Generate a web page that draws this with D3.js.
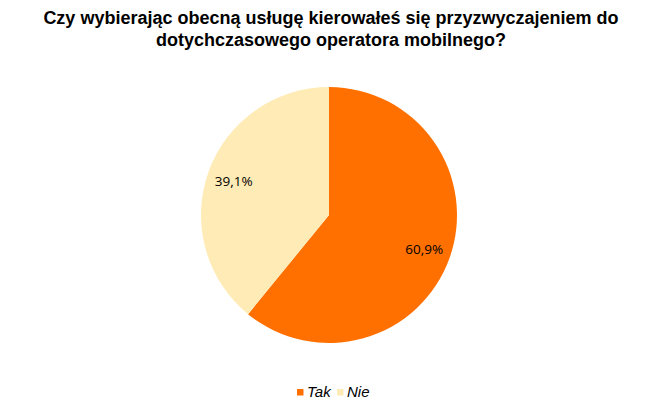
<!DOCTYPE html>
<html lang="pl">
<head>
    <meta charset="UTF-8">
    <title>Przyzwyczajenie do operatora</title>
    <script src="https://cdnjs.cloudflare.com/ajax/libs/d3/7.8.5/d3.min.js"></script>
    <style>
        body { margin: 0; background: #ffffff; }
        svg { display: block; }
    </style>
</head>
<body>
    <div id="chart"></div>
    <script>
        const titleLines = [
            "Czy wybierając obecną usługę kierowałeś się przyzwyczajeniem do",
            "dotychczasowego operatora mobilnego?"
        ];
        const categories = ["Tak", "Nie"];
        const values = [60.9, 39.1];
        const colors = ["#ff7000", "#ffebb5"];

        const width = 667, height = 410;
        const cx = 329, cy = 215, radius = 128;

        const svg = d3.select("#chart")
            .append("svg")
            .attr("width", width)
            .attr("height", height);

        svg.append("g")
            .selectAll("text")
            .data(titleLines)
            .enter().append("text")
            .attr("x", 331)
            .attr("y", (d, i) => 24 + i * 22)
            .attr("text-anchor", "middle")
            .style("font-family", "Arial, 'Liberation Sans', sans-serif")
            .style("font-size", "18px")
            .style("font-weight", "bold")
            .attr("fill", "#000")
            .text(d => d);

        const data = categories.map((c, i) => ({ name: c, value: values[i] }));

        const pie = d3.pie().value(d => d.value).sort(null);
        const arc = d3.arc().innerRadius(0).outerRadius(radius);
        const labelArc = d3.arc().innerRadius(radius * 0.79).outerRadius(radius * 0.79);
        const color = d3.scaleOrdinal().domain(categories).range(colors);

        const g = svg.append("g").attr("transform", `translate(${cx},${cy})`);
        const arcs = pie(data);

        g.selectAll("path")
            .data(arcs)
            .enter().append("path")
            .attr("d", arc)
            .attr("fill", d => color(d.data.name));

        g.selectAll(".lbl")
            .data(arcs)
            .enter().append("text")
            .attr("class", "lbl")
            .attr("transform", d => `translate(${labelArc.centroid(d)})`)
            .attr("dy", "0.35em")
            .attr("text-anchor", "middle")
            .style("font-family", "'Open Sans', 'DejaVu Sans', sans-serif")
            .style("font-size", "13.5px")
            .attr("fill", "#000")
            .text(d => d3.format(".1f")(d.data.value).replace(".", ",") + "%");

        const legendX = d3.scalePoint().domain(categories).range([297, 337]);
        const legend = svg.append("g")
            .selectAll("g")
            .data(categories)
            .enter().append("g")
            .attr("transform", d => `translate(${legendX(d)},389)`);

        legend.append("rect")
            .attr("width", 6.5)
            .attr("height", 6.5)
            .attr("fill", d => color(d));

        legend.append("text")
            .attr("x", 10)
            .attr("y", 8)
            .style("font-family", "Arial, 'Liberation Sans', sans-serif")
            .style("font-size", "15px")
            .style("font-style", "italic")
            .attr("fill", "#000")
            .text(d => d);
    </script>
</body>
</html>
